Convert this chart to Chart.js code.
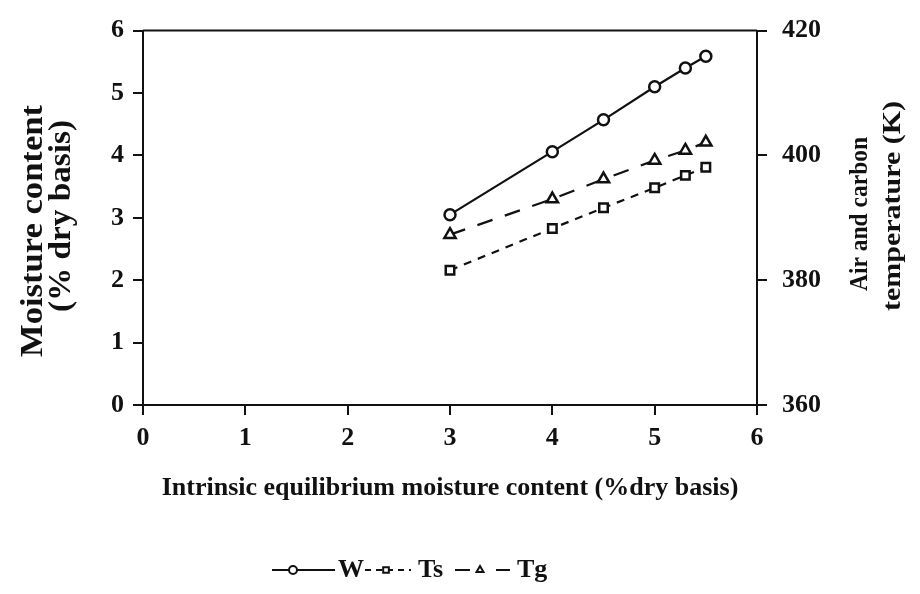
<!DOCTYPE html>
<html><head><meta charset="utf-8">
<script src="https://cdn.jsdelivr.net/npm/chart.js@4.4.1/dist/chart.umd.min.js"></script>
<style>html,body{margin:0;padding:0;background:#fff;}canvas{display:block;}</style>
</head><body>
<canvas id="c" width="920" height="594"></canvas>
<script>
// ---- data ----
const xValues   = [3, 4, 4.5, 5, 5.3, 5.5];
const moistureW = [3.05, 4.06, 4.57, 5.10, 5.40, 5.59];
const tempTs    = [381.6, 388.3, 391.6, 394.8, 396.8, 398.1];
const tempTg    = [387.3, 393.0, 396.2, 399.2, 400.8, 402.1];
const xTicks     = [0, 1, 2, 3, 4, 5, 6];
const leftTicks  = [0, 1, 2, 3, 4, 5, 6];
const rightTicks = [360, 380, 400, 420];
const seriesLabels = ['W', 'Ts', 'Tg'];
const xTitle = 'Intrinsic equilibrium moisture content (%dry basis)';
const leftTitle = ['Moisture content', '(% dry basis)'];
const rightTitle = ['Air and carbon', 'temperature (K)'];

// ---- layout ----
const W = 920, H = 594;
const AREA = {left: 143, right: 757, top: 27, bottom: 405};
const FONT = '"Liberation Serif", "Times New Roman", serif';
const INK = '#111';

const pts = (ys) => xValues.map((x, i) => ({x: x, y: ys[i]}));

const common = {
  borderColor: INK, pointBorderColor: INK, pointBackgroundColor: '#fff',
  fill: false, tension: 0, pointBorderWidth: 2.5
};

const datasets = [
  Object.assign({}, common, {label: seriesLabels[0], data: pts(moistureW), yAxisID: 'y',
    borderWidth: 2.2, pointStyle: 'circle', pointRadius: 5.5}),
  Object.assign({}, common, {label: seriesLabels[1], data: pts(tempTs), yAxisID: 'y2',
    borderWidth: 2.2, borderDash: [8, 7], pointStyle: 'rect', pointRadius: 6}),
  Object.assign({}, common, {label: seriesLabels[2], data: pts(tempTg), yAxisID: 'y2',
    borderWidth: 2.2, borderDash: [16, 13], pointStyle: 'triangle', pointRadius: 6.5})
];

const tickFont = {family: FONT, size: 26, weight: 'bold'};
const gridCommon = {drawOnChartArea: false, drawTicks: true, tickLength: 10, color: INK, lineWidth: 2};
const borderCommon = {display: true, color: INK, width: 2};

const framePlugin = {
  id: 'frame',
  afterDraw(chart) {
    const {ctx, chartArea} = chart;
    ctx.save();
    ctx.strokeStyle = INK; ctx.lineWidth = 2;
    ctx.beginPath();
    ctx.moveTo(chartArea.left, chartArea.top);
    ctx.lineTo(chartArea.right, chartArea.top);
    ctx.stroke();
    ctx.restore();
  }
};

// vertical (bottom-to-top) axis titles, stretched along their length like the scanned original
function drawVertical(ctx, text, cx, cy, len, size) {
  ctx.save();
  ctx.font = 'bold ' + size + 'px ' + FONT;
  ctx.fillStyle = INK;
  ctx.textAlign = 'center';
  ctx.textBaseline = 'middle';
  const natural = ctx.measureText(text).width;
  ctx.translate(cx, cy);
  ctx.rotate(-Math.PI / 2);
  ctx.scale(len / natural, 1);
  ctx.fillText(text, 0, 0);
  ctx.restore();
}

const sideTitlePlugin = {
  id: 'sideTitles',
  afterDraw(chart) {
    const ctx = chart.ctx;
    drawVertical(ctx, leftTitle[0], 34, 231, 252, 31);
    drawVertical(ctx, leftTitle[1], 62, 216, 192, 31);
    drawVertical(ctx, rightTitle[0], 860, 214, 154, 26);
    drawVertical(ctx, rightTitle[1], 893, 206, 210, 26);
  }
};

const legendPlugin = {
  id: 'lineLegend',
  afterDraw(chart) {
    const ctx = chart.ctx;
    const y = 570;
    const items = [
      {segs: [[272, 335]], marker: 293, text: 338},
      {segs: [[365, 411]], marker: 386, text: 418},
      {segs: [[455, 470], [496, 510]], marker: 480, text: 517}
    ];
    ctx.save();
    items.forEach((it, i) => {
      const ds = chart.data.datasets[i];
      ctx.strokeStyle = INK;
      ctx.lineWidth = 2;
      ctx.setLineDash(i === 1 ? [6, 5] : []);
      it.segs.forEach(s => {
        ctx.beginPath(); ctx.moveTo(s[0], y); ctx.lineTo(s[1], y); ctx.stroke();
      });
      ctx.setLineDash([]);
      ctx.fillStyle = '#fff';
      ctx.lineWidth = 2;
      Chart.helpers.drawPoint(ctx, {pointStyle: ds.pointStyle, radius: 4, borderWidth: 2, rotation: 0}, it.marker, y);
      ctx.fillStyle = INK;
      ctx.font = 'bold 26px ' + FONT;
      ctx.textAlign = 'left';
      ctx.textBaseline = 'middle';
      ctx.fillText(ds.label, it.text, y);
    });
    ctx.restore();
  }
};

new Chart(document.getElementById('c'), {
  type: 'line',
  data: {datasets: datasets},
  plugins: [framePlugin, sideTitlePlugin, legendPlugin],
  options: {
    responsive: false,
    animation: false,
    devicePixelRatio: 1,
    layout: {padding: {top: AREA.top, left: 0, right: 0, bottom: 0}},
    plugins: {legend: {display: false}, tooltip: {enabled: false}},
    scales: {
      x: {
        type: 'linear', position: 'bottom', min: 0, max: 6,
        afterBuildTicks: s => { s.ticks = xTicks.map(v => ({value: v})); },
        afterFit: s => { s.height = H - AREA.bottom; },
        ticks: {font: tickFont, color: INK, padding: 8, maxRotation: 0},
        grid: gridCommon, border: borderCommon,
        title: {display: true, text: xTitle, color: INK,
          font: {family: FONT, size: 26, weight: 'bold'}, padding: {top: 0, bottom: 90}}
      },
      y: {
        type: 'linear', position: 'left', min: 0, max: 6,
        afterBuildTicks: s => { s.ticks = leftTicks.map(v => ({value: v})); },
        afterFit: s => { s.width = AREA.left; },
        ticks: {font: tickFont, color: INK, padding: 9},
        grid: gridCommon, border: borderCommon,
        title: {display: false}
      },
      y2: {
        type: 'linear', position: 'right', min: 360, max: 420,
        afterBuildTicks: s => { s.ticks = rightTicks.map(v => ({value: v})); },
        afterFit: s => { s.width = W - AREA.right; },
        ticks: {font: tickFont, color: INK, padding: 15},
        grid: gridCommon, border: borderCommon,
        title: {display: false}
      }
    }
  }
});
</script>
</body></html>
